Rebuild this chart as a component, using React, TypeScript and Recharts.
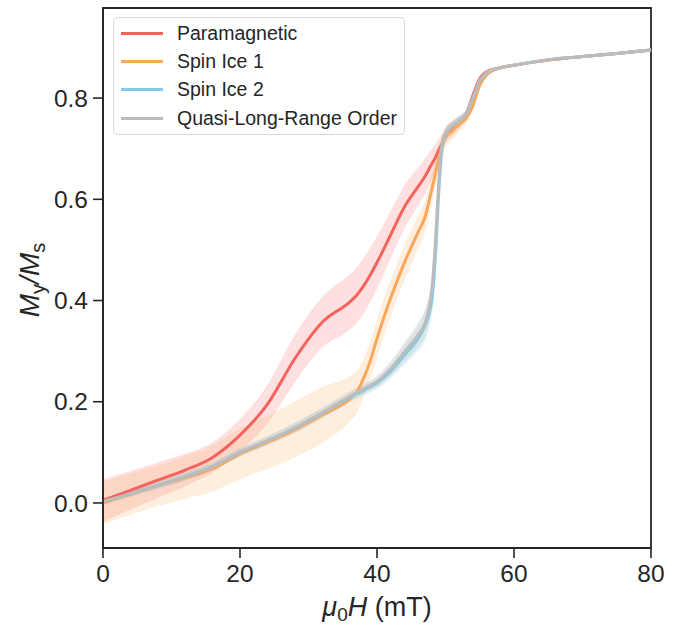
import { Area, ComposedChart, Legend, Line, ReferenceArea, XAxis, YAxis } from "recharts";

const fieldMT = [0, 4, 8, 12, 16, 20, 24, 28, 32, 36, 37, 38, 39, 40, 42, 44, 46, 47, 48, 48.5, 49, 49.5, 50, 51, 52, 53, 54, 55, 56, 58, 60, 65, 70, 75, 80];

const paraMean = [0.005, 0.025, 0.045, 0.065, 0.09, 0.134, 0.195, 0.285, 0.357, 0.397, 0.41, 0.428, 0.45, 0.475, 0.53, 0.585, 0.625, 0.645, 0.67, 0.682, 0.697, 0.71, 0.725, 0.74, 0.752, 0.768, 0.805, 0.838, 0.852, 0.86, 0.865, 0.875, 0.882, 0.888, 0.895];
const paraSpread = [0.042, 0.038, 0.035, 0.032, 0.03, 0.032, 0.038, 0.047, 0.05, 0.055, 0.055, 0.055, 0.054, 0.052, 0.047, 0.043, 0.038, 0.035, 0.03, 0.026, 0.022, 0.018, 0.016, 0.014, 0.012, 0.01, 0.008, 0.006, 0.004, 0.003, 0.002, 0.002, 0.002, 0.002, 0.002];

const ice1Mean = [0.0, 0.017, 0.034, 0.05, 0.068, 0.097, 0.12, 0.145, 0.174, 0.205, 0.218, 0.245, 0.28, 0.325, 0.405, 0.475, 0.535, 0.565, 0.62, 0.65, 0.68, 0.705, 0.722, 0.735, 0.748, 0.76, 0.785, 0.825, 0.846, 0.86, 0.865, 0.875, 0.882, 0.888, 0.895];
const ice1Spread = [0.042, 0.041, 0.04, 0.042, 0.045, 0.05, 0.053, 0.055, 0.055, 0.045, 0.042, 0.038, 0.038, 0.038, 0.036, 0.035, 0.033, 0.032, 0.03, 0.028, 0.025, 0.022, 0.02, 0.018, 0.015, 0.012, 0.01, 0.007, 0.004, 0.003, 0.002, 0.002, 0.002, 0.002, 0.002];

const ice2Mean = [0.003, 0.018, 0.035, 0.052, 0.072, 0.1, 0.123, 0.148, 0.177, 0.208, 0.215, 0.222, 0.229, 0.237, 0.26, 0.292, 0.325, 0.35, 0.4, 0.48, 0.61, 0.7, 0.728, 0.744, 0.755, 0.768, 0.8, 0.834, 0.85, 0.86, 0.865, 0.876, 0.882, 0.888, 0.895];
const ice2Spread = [0.006, 0.006, 0.007, 0.008, 0.008, 0.008, 0.009, 0.01, 0.01, 0.01, 0.01, 0.01, 0.011, 0.012, 0.015, 0.02, 0.025, 0.03, 0.032, 0.03, 0.025, 0.018, 0.012, 0.01, 0.01, 0.008, 0.006, 0.004, 0.003, 0.002, 0.002, 0.002, 0.002, 0.002, 0.002];

const qlroMean = [0.003, 0.018, 0.035, 0.052, 0.072, 0.1, 0.123, 0.148, 0.178, 0.21, 0.218, 0.225, 0.232, 0.24, 0.265, 0.298, 0.332, 0.355, 0.42, 0.51, 0.63, 0.71, 0.73, 0.745, 0.755, 0.768, 0.8, 0.835, 0.85, 0.86, 0.865, 0.876, 0.882, 0.888, 0.895];
const qlroSpread = [0.006, 0.006, 0.007, 0.008, 0.008, 0.008, 0.009, 0.01, 0.01, 0.01, 0.01, 0.01, 0.011, 0.012, 0.015, 0.02, 0.025, 0.028, 0.03, 0.03, 0.025, 0.018, 0.012, 0.01, 0.01, 0.008, 0.006, 0.004, 0.003, 0.002, 0.002, 0.002, 0.002, 0.002, 0.002];

const xTicks = [0, 20, 40, 60, 80];
const yTicks = [0, 0.2, 0.4, 0.6, 0.8];

const series = [
  { key: "para", name: "Paramagnetic", color: "#f6625d", band: 0.2 },
  { key: "ice1", name: "Spin Ice 1", color: "#f9a85b", band: 0.2 },
  { key: "ice2", name: "Spin Ice 2", color: "#86cbe6", band: 0.2 },
  { key: "qlro", name: "Quasi-Long-Range Order", color: "#bcbcbc", band: 0.3 },
];

const band = (m: number, s: number) => [m - s, m + s];

const data = fieldMT.map((x, i) => ({
  x,
  para: paraMean[i],
  paraBand: band(paraMean[i], paraSpread[i]),
  ice1: ice1Mean[i],
  ice1Band: band(ice1Mean[i], ice1Spread[i]),
  ice2: ice2Mean[i],
  ice2Band: band(ice2Mean[i], ice2Spread[i]),
  qlro: qlroMean[i],
  qlroBand: band(qlroMean[i], qlroSpread[i]),
}));

const FONT = "'Liberation Sans', Arial, sans-serif";
const INK = "#262626";

function LegendBox() {
  return (
    <div
      style={{
        width: 292,
        height: 118,
        boxSizing: "border-box",
        border: "1.3px solid #d9d9d9",
        borderRadius: 4,
        background: "rgba(255,255,255,0.85)",
        padding: "1px 0 0 7px",
        fontFamily: FONT,
        fontSize: 19.5,
        color: INK,
      }}
    >
      {series.map((s) => (
        <div key={s.key} style={{ display: "flex", alignItems: "center", height: 28.3 }}>
          <span style={{ display: "inline-block", width: 42, height: 3, background: s.color, marginRight: 14 }} />
          <span>{s.name}</span>
        </div>
      ))}
    </div>
  );
}

function YLabel() {
  const cx = 30;
  const cy = 280;
  return (
    <text transform={`rotate(-90, ${cx}, ${cy})`} x={cx} y={cy + 9} textAnchor="middle" fontFamily={FONT} fontSize={28} fill={INK}>
      <tspan fontStyle="italic">M</tspan>
      <tspan fontSize={20} dy={6}>y</tspan>
      <tspan dy={-6} fontStyle="italic">/M</tspan>
      <tspan fontSize={20} dy={6}>s</tspan>
    </text>
  );
}

function XLabel() {
  return (
    <text x={377} y={616} textAnchor="middle" fontFamily={FONT} fontSize={27} fill={INK}>
      <tspan fontStyle="italic">μ</tspan>
      <tspan fontSize={19} dy={5}>0</tspan>
      <tspan dy={-5} fontStyle="italic">H</tspan>
      <tspan> (mT)</tspan>
    </text>
  );
}

export default function App() {
  return (
    <div style={{ position: "absolute", left: 0, top: 0, width: 689, height: 625, background: "#fff" }}>
      <ComposedChart width={689} height={625} data={data} margin={{ top: 8, right: 38, bottom: 0, left: 0 }}>
        <XAxis
          dataKey="x"
          type="number"
          domain={[0, 80]}
          ticks={xTicks}
          height={77}
          tick={{ fontSize: 24.5, fill: INK, fontFamily: FONT }}
          tickSize={10}
          tickMargin={7}
          axisLine={{ stroke: INK, strokeWidth: 1.8 }}
          tickLine={{ stroke: INK, strokeWidth: 1.6 }}
          label={<XLabel />}
        />
        <YAxis
          type="number"
          domain={[-0.089, 0.978]}
          ticks={yTicks}
          width={103}
          tickFormatter={(v) => Number(v).toFixed(1)}
          tick={{ fontSize: 24.5, fill: INK, fontFamily: FONT }}
          tickSize={10}
          tickMargin={5}
          axisLine={{ stroke: INK, strokeWidth: 1.8 }}
          tickLine={{ stroke: INK, strokeWidth: 1.6 }}
          label={<YLabel />}
          allowDataOverflow
        />
        <ReferenceArea x1={0} x2={80} y1={-0.089} y2={0.978} fill="none" stroke={INK} strokeWidth={1.8} ifOverflow="visible" />
        {series.map((s) => (
          <Area
            key={s.key + "Band"}
            dataKey={s.key + "Band"}
            type="monotone"
            stroke="none"
            fill={s.color}
            fillOpacity={s.band}
            isAnimationActive={false}
            legendType="none"
          />
        ))}
        {series.map((s) => (
          <Line
            key={s.key}
            dataKey={s.key}
            name={s.name}
            type="monotone"
            stroke={s.color}
            strokeWidth={3}
            dot={false}
            isAnimationActive={false}
          />
        ))}
        <Legend
          layout="vertical"
          align="center"
          verticalAlign="middle"
          content={() => <LegendBox />}
          wrapperStyle={{ left: 113, top: 17, width: 292 }}
        />
      </ComposedChart>
    </div>
  );
}
